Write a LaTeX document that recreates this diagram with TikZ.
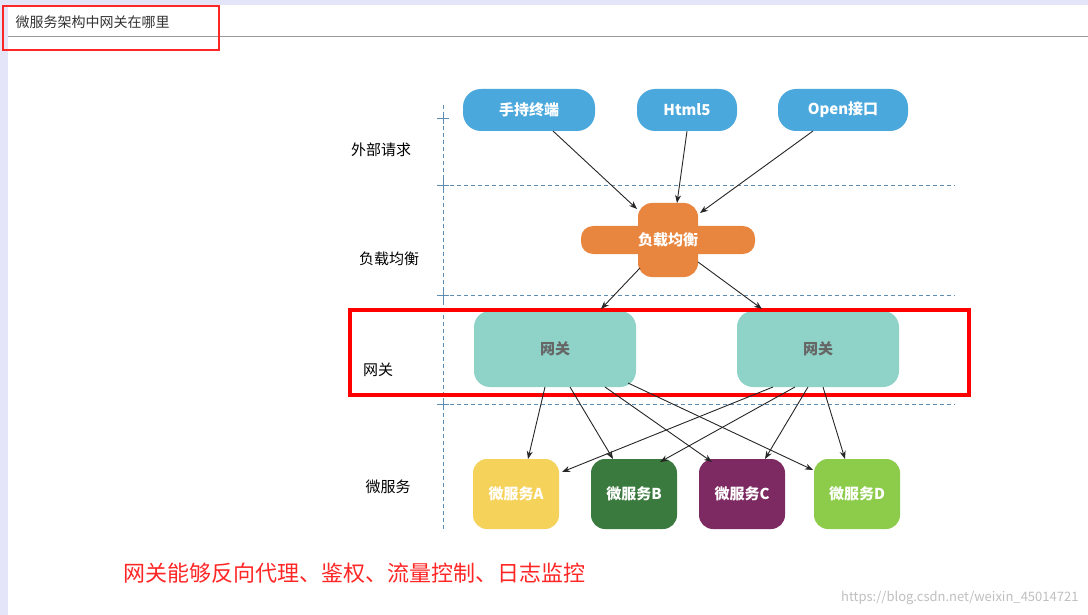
\documentclass[tikz,border=0pt]{standalone}
\usepackage{fontspec}
\setmainfont{Noto Sans CJK SC}
\usetikzlibrary{arrows.meta}
\definecolor{tblue}{HTML}{4AA8DC}
\definecolor{lbor}{HTML}{E8853E}
\definecolor{gw}{HTML}{8FD3C8}
\definecolor{dlc}{HTML}{5E8CB0}
\tikzset{
 top/.style={rounded corners=18pt,fill=tblue,text=white,font=\fontsize{15}{15}\selectfont\bfseries,minimum height=42pt,inner sep=0pt},
 gate/.style={rounded corners=16pt,fill=gw,text=black!60,font=\fontsize{15}{15}\selectfont\bfseries,minimum width=162pt,minimum height=76pt},
 svc/.style={rounded corners=14pt,text=white,font=\fontsize{15}{15}\selectfont\bfseries,minimum width=86pt,minimum height=70pt,inner sep=0pt},
 lab/.style={font=\fontsize{15}{15}\selectfont},
 arr/.style={-{Stealth[length=8pt,width=6pt]},black!85,line width=0.9pt},
 dline/.style={draw=dlc,dash pattern=on 4pt off 3pt,line width=0.9pt}
}
\begin{document}
\begin{tikzpicture}[x=1pt,y=-1pt]
\useasboundingbox (0,0) rectangle (1088,615);
\fill[white] (0,0) rectangle (1088,615);
\fill[black!25!blue!10!white] (0,0) rectangle (1088,5);
\fill[black!25!blue!10!white] (0,0) rectangle (8,615);
\draw[black!40,line width=1pt] (8,37) -- (1088,37);
\node[anchor=west,font=\fontsize{14}{14}\selectfont,text=black!80] (title) at (12,22) {微服务架构中网关在哪里};
\draw[red!85!white,line width=2.5pt] (3,6) rectangle (219,50);
% grid
\draw[dline] (443,105) -- (443,530);
\foreach \y in {185,295,404} \draw[dline] (443,\y) -- (955,\y);
\foreach \y in {118,185,295,404} {\draw[dline,solid] (437,\y) -- (449,\y); \draw[dline,solid] (443,\y-6) -- (443,\y+6);}
\node[lab] (l1) at (381,150) {外部请求};
\node[lab] (l2) at (389,259) {负载均衡};
\node[lab] (l3) at (378,370) {网关};
\node[lab] (l4) at (388,487) {微服务};
% top
\node[top,minimum width=132pt] (t1) at (529,110) {手持终端};
\node[top,minimum width=100pt] (t2) at (687,110) {Html5};
\node[top,minimum width=130pt] (t3) at (843,110) {Open接口};
% LB
\fill[lbor,rounded corners=12pt] (581,226) rectangle (755,254);
\fill[lbor,rounded corners=14pt] (638,203) rectangle (698,277);
\node[text=white,font=\fontsize{15}{15}\selectfont\bfseries,minimum width=60pt,minimum height=74pt] (lb) at (668,240) {负载均衡};
% gateways
\node[gate] (g1) at (555,349) {网关};
\node[gate] (g2) at (818,349) {网关};
\draw[red,line width=4pt] (350,310) rectangle (969,395);
% services
\node[svc,fill={rgb,255:red,245;green,210;blue,90}] (a) at (516,494) {微服务A};
\node[svc,fill={rgb,255:red,58;green,122;blue,62}] (b) at (634,494) {微服务B};
\node[svc,fill={rgb,255:red,125;green,42;blue,98}] (c) at (742,494) {微服务C};
\node[svc,fill={rgb,255:red,140;green,204;blue,74}] (d) at (857,494) {微服务D};
% arrows
\draw[arr] (553,131) -- (637,209);
\draw[arr] (t2.south) -- (677,203);
\draw[arr] (813,131) -- (700,213);
\draw[arr] (640,268) -- (601,309);
\draw[arr] (698,262) -- (762,309);
\draw[arr] (545,387) -- (528,459);
\draw[arr] (570,387) -- (613,459);
\draw[arr] (605,387) -- (712,462);
\draw[arr] (628,383) -- (813,470);
\draw[arr] (773,387) -- (562,472);
\draw[arr] (795,387) -- (660,462);
\draw[arr] (808,387) -- (765,459);
\draw[arr] (823,387) -- (845,459);
\node[anchor=west,text=red!85!white,font=\fontsize{22}{22}\selectfont] (note) at (120,573) {网关能够反向代理、鉴权、流量控制、日志监控};
\node[anchor=east,text=black!25,font=\fontsize{13}{13}\selectfont] (wm) at (1082,598) {https://blog.csdn.net/weixin\_45014721};
\end{tikzpicture}
\end{document}
